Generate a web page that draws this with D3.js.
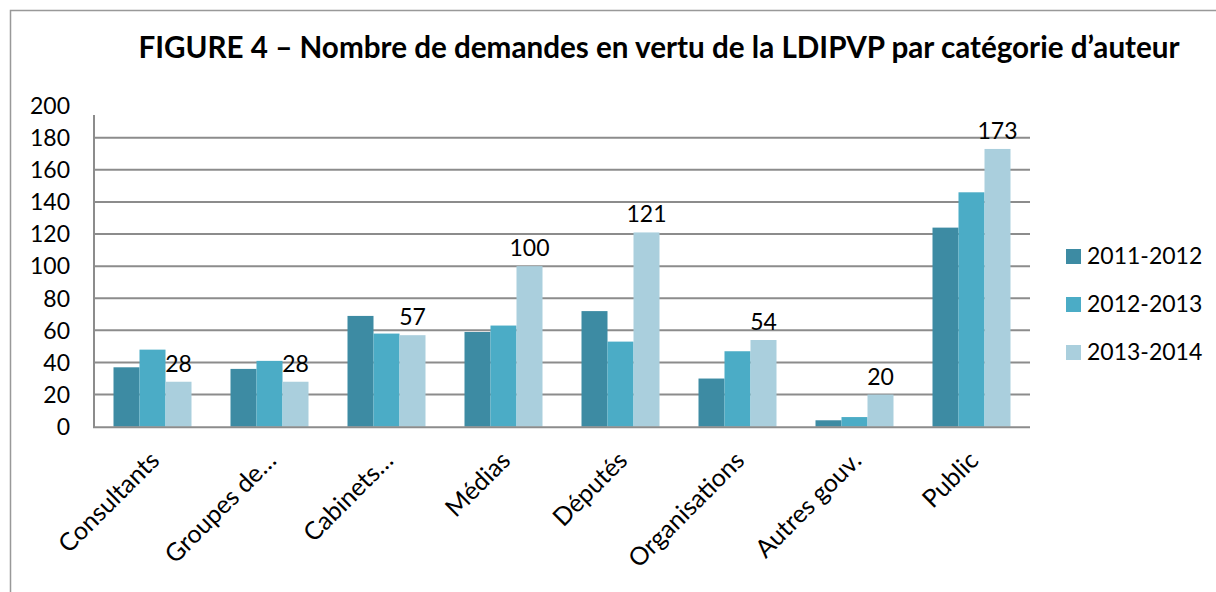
<!DOCTYPE html>
<html>
<head>
<meta charset="utf-8">
<script src="https://cdn.jsdelivr.net/npm/d3@7"></script>
<style>
  html, body { margin: 0; padding: 0; background: #fff; }
  svg { display: block; }
  text { font-family: Lato, "Open Sans", sans-serif; fill: #000; }
</style>
</head>
<body>
<svg id="chart" width="1216" height="592"></svg>
<script>
const title = "FIGURE 4 – Nombre de demandes en vertu de la LDIPVP par catégorie d’auteur";
const categories = ["Consultants", "Groupes de…", "Cabinets…", "Médias", "Députés", "Organisations", "Autres gouv.", "Public"];
const seriesNames = ["2011-2012", "2012-2013", "2013-2014"];
const values2011 = [37, 36, 69, 59, 72, 30, 4, 124];
const values2012 = [48, 41, 58, 63, 53, 47, 6, 146];
const values2013 = [28, 28, 57, 100, 121, 54, 20, 173];
const yTicks = [0, 20, 40, 60, 80, 100, 120, 140, 160, 180, 200];
const colors = ["#3D8BA3", "#4BACC6", "#AACFDD"];

const seriesValues = [values2011, values2012, values2013];
const svg = d3.select("#chart");

// frame
svg.append("path").attr("d", "M10.5,592 V10.5 H1216")
  .attr("fill", "none").attr("stroke", "#999").attr("stroke-width", 1.5);

const plot = { left: 94, right: 1030, top: 105.6, bottom: 426.7 };

const x0 = d3.scaleBand().domain(categories).range([plot.left, plot.right]).padding(0);
const x1 = d3.scaleBand().domain(seriesNames).range([0, 78]).padding(0);
const y = d3.scaleLinear().domain([0, 200]).range([plot.bottom, plot.top]);

// gridlines
svg.append("g").selectAll("line").data(yTicks.filter(t => t > 0 && t < 200)).join("line")
  .attr("x1", plot.left).attr("x2", plot.right)
  .attr("y1", d => y(d)).attr("y2", d => y(d))
  .attr("stroke", "#8C8C8C").attr("stroke-width", 2);

// y axis tick labels
svg.append("g").selectAll("text").data(yTicks).join("text")
  .attr("x", 70).attr("y", d => y(d)).attr("dy", "0.36em")
  .attr("text-anchor", "end").attr("font-size", 23).text(d => d);

// bars
const groups = svg.append("g").selectAll("g").data(categories).join("g")
  .attr("transform", c => `translate(${x0(c) + (x0.bandwidth() - 78) / 2},0)`);

groups.selectAll("rect").data((c, i) => seriesNames.map((s, j) => ({ s, j, v: seriesValues[j][i] })))
  .join("rect")
  .attr("x", d => x1(d.s)).attr("width", x1.bandwidth())
  .attr("y", d => y(d.v)).attr("height", d => y(0) - y(d.v))
  .attr("fill", d => colors[d.j]);

// data labels for 2013-2014
groups.append("text")
  .attr("x", x1("2013-2014") + x1.bandwidth() / 2)
  .attr("y", (c, i) => y(values2013[i]) - 10)
  .attr("text-anchor", "middle").attr("font-size", 23)
  .text((c, i) => values2013[i]);

// axes lines
svg.append("line").attr("x1", plot.left).attr("x2", plot.left)
  .attr("y1", 115).attr("y2", plot.bottom + 1)
  .attr("stroke", "#8C8C8C").attr("stroke-width", 2);
svg.append("line").attr("x1", plot.left - 1).attr("x2", plot.right)
  .attr("y1", plot.bottom + 0.5).attr("y2", plot.bottom + 0.5)
  .attr("stroke", "#8C8C8C").attr("stroke-width", 2);

// x labels
svg.append("g").selectAll("text").data(categories).join("text")
  .attr("transform", c => `translate(${x0(c) + x0.bandwidth() / 2 - 4},${plot.bottom + 23}) rotate(-45)`)
  .attr("text-anchor", "end").attr("dy", "0.7em").attr("font-size", 25)
  .text(c => c);

// legend
const legend = svg.append("g").selectAll("g").data(seriesNames).join("g")
  .attr("transform", (s, i) => `translate(1066,${256 + i * 48})`);
legend.append("rect").attr("x", 0).attr("y", -7).attr("width", 15).attr("height", 15)
  .attr("fill", (s, i) => colors[i]);
legend.append("text").attr("x", 21).attr("y", 0).attr("dy", "0.36em")
  .attr("font-size", 23).text(s => s);

// title fitted to reference width
const t = svg.append("text").attr("x", 659).attr("y", 58)
  .attr("text-anchor", "middle").attr("font-weight", "bold").attr("font-size", 26).text(title);
const w = t.node().getComputedTextLength();
t.attr("font-size", 26 * 1042 / w);
</script>
</body>
</html>
